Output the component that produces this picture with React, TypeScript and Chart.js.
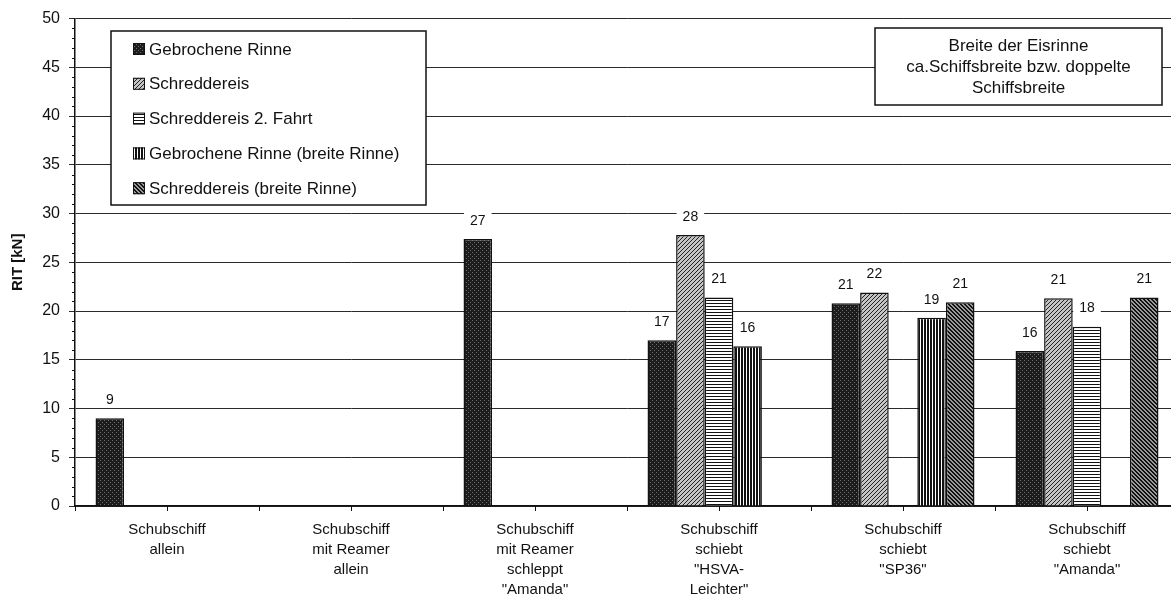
import React, { useEffect, useRef } from "react";
import { Chart, registerables } from "chart.js";
Chart.register(...registerables);

// ---------- data ----------
const categories: string[][] = [
  ["Schubschiff", "allein"],
  ["Schubschiff", "mit Reamer", "allein"],
  ["Schubschiff", "mit Reamer", "schleppt", "\"Amanda\""],
  ["Schubschiff", "schiebt", "\"HSVA-", "Leichter\""],
  ["Schubschiff", "schiebt", "\"SP36\""],
  ["Schubschiff", "schiebt", "\"Amanda\""],
];
const seriesNames = [
  "Gebrochene Rinne",
  "Schreddereis",
  "Schreddereis 2. Fahrt",
  "Gebrochene Rinne (breite Rinne)",
  "Schreddereis (breite Rinne)",
];
const gebrocheneRinne = [9.0, null, 27.4, 17.0, 20.8, 15.9];
const schreddereis = [null, null, null, 27.8, 21.9, 21.3];
const schreddereis2Fahrt = [null, null, null, 21.4, null, 18.4];
const gebrocheneRinneBreit = [null, null, null, 16.4, 19.3, null];
const schreddereisBreit = [null, null, null, null, 20.9, 21.4];
const yMin = 0;
const yMax = 50;
const yStep = 5;
const yMinorStep = 1;
const yTitle = "RIT [kN]";
const noteLines = ["Breite der Eisrinne", "ca.Schiffsbreite bzw. doppelte", "Schiffsbreite"];

const FONT = "'Liberation Sans', Arial, sans-serif";

function makePattern(
  ctx: CanvasRenderingContext2D,
  size: number,
  bg: string,
  fg: string,
  pixels: [number, number][]
) {
  const c = document.createElement("canvas");
  c.width = size;
  c.height = size;
  const g = c.getContext("2d")!;
  g.fillStyle = bg;
  g.fillRect(0, 0, size, size);
  g.fillStyle = fg;
  pixels.forEach(([x, y]) => g.fillRect(x, y, 1, 1));
  return ctx.createPattern(c, "repeat")!;
}

export default function App() {
  const ref = useRef<HTMLCanvasElement | null>(null);

  useEffect(() => {
    const canvas = ref.current!;
    const ctx = canvas.getContext("2d")!;

    const patterns = [
      makePattern(ctx, 4, "#1c1c1c", "#6e6e6e", [[0, 0], [2, 2]]),
      makePattern(ctx, 4, "#c4c4c4", "#222222", [
        [3, 0], [2, 1], [1, 2], [0, 3],
      ]),
      makePattern(ctx, 3, "#ffffff", "#111111", [[0, 0], [1, 0], [2, 0]]),
      makePattern(ctx, 3, "#ffffff", "#111111", [[0, 0], [0, 1], [0, 2], [1, 0], [1, 1], [1, 2]]),
      makePattern(ctx, 4, "#9a9a9a", "#111111", [
        [0, 0], [1, 1], [2, 2], [3, 3], [1, 0], [2, 1], [3, 2], [0, 3],
      ]),
    ];

    const seriesData = [
      gebrocheneRinne,
      schreddereis,
      schreddereis2Fahrt,
      gebrocheneRinneBreit,
      schreddereisBreit,
    ];

    const extras = {
      id: "extras",
      beforeDatasetsDraw(chart: any) {
        const c = chart.ctx;
        const { left, bottom } = chart.chartArea;
        const ys = chart.scales.y;
        c.save();
        c.strokeStyle = "#111";
        c.lineWidth = 1;
        // minor y ticks
        for (let v = yMin; v <= yMax; v += yMinorStep) {
          if (v % yStep === 0) continue;
          const y = Math.round(ys.getPixelForValue(v)) + 0.5;
          c.beginPath();
          c.moveTo(left - 3, y);
          c.lineTo(left, y);
          c.stroke();
        }
        // x ticks at category boundaries and centers
        const n = categories.length;
        const w = (chart.chartArea.right - left) / n;
        for (let i = 0; i <= 2 * n; i++) {
          const x = Math.round(left + (i * w) / 2) + 0.5;
          c.beginPath();
          c.moveTo(x, bottom);
          c.lineTo(x, bottom + 5);
          c.stroke();
        }
        c.restore();
      },
      afterDatasetsDraw(chart: any) {
        const c = chart.ctx;
        c.save();
        c.font = `14px ${FONT}`;
        c.textAlign = "center";
        c.textBaseline = "middle";
        chart.data.datasets.forEach((ds: any, di: number) => {
          const meta = chart.getDatasetMeta(di);
          meta.data.forEach((bar: any, i: number) => {
            const v = ds.data[i];
            if (v === null || v === undefined) return;
            const txt = String(Math.round(v));
            const tw = c.measureText(txt).width;
            const y = bar.y - 19;
            c.fillStyle = "#fff";
            c.fillRect(bar.x - tw / 2 - 6, y - 8, tw + 12, 16);
            c.fillStyle = "#111";
            c.fillText(txt, bar.x, y + 1);
          });
        });
        c.restore();
      },
      afterDraw(chart: any) {
        const c = chart.ctx;
        c.save();
        // legend box
        const lx = 111, ly = 31, lw = 315, lh = 174;
        c.fillStyle = "#fff";
        c.fillRect(lx, ly, lw, lh);
        c.strokeStyle = "#111";
        c.lineWidth = 1.5;
        c.strokeRect(lx, ly, lw, lh);
        c.font = `17px ${FONT}`;
        c.textAlign = "left";
        c.textBaseline = "middle";
        chart.data.datasets.forEach((ds: any, i: number) => {
          const y = 49 + i * 34.8;
          c.fillStyle = ds.backgroundColor;
          c.fillRect(133, y - 6, 12, 12);
          c.lineWidth = 1;
          c.strokeStyle = "#111";
          c.strokeRect(133.5, y - 5.5, 11, 11);
          c.fillStyle = "#111";
          c.fillText(ds.label, 149, y + 1);
        });
        // note box
        const nx = 875, ny = 28, nw = 287, nh = 77;
        c.fillStyle = "#fff";
        c.fillRect(nx, ny, nw, nh);
        c.lineWidth = 1.5;
        c.strokeStyle = "#111";
        c.strokeRect(nx, ny, nw, nh);
        c.fillStyle = "#111";
        c.textAlign = "center";
        noteLines.forEach((t, i) => c.fillText(t, nx + nw / 2, 46 + i * 21));
        c.restore();
      },
    };

    const chart = new Chart(canvas, {
      type: "bar",
      data: {
        labels: categories,
        datasets: seriesNames.map((name, i) => ({
          label: name,
          data: seriesData[i],
          backgroundColor: patterns[i] as any,
          borderColor: "#111",
          borderWidth: 1.5,
          categoryPercentage: 0.777,
          barPercentage: 1.0,
        })),
      },
      options: {
        animation: false,
        responsive: true,
        maintainAspectRatio: false,
        layout: { padding: { top: 16, left: 0, right: 6, bottom: 0 } },
        plugins: {
          legend: { display: false },
          tooltip: { enabled: false },
        },
        scales: {
          x: {
            grid: { display: true, drawOnChartArea: false, drawTicks: false },
            border: { display: true, color: "#111", width: 1.5 },
            ticks: {
              color: "#111",
              font: { family: FONT, size: 15, lineHeight: 1.33 },
              padding: 14,
              maxRotation: 0,
              autoSkip: false,
            },
            afterFit(scale: any) {
              scale.height = 93;
            },
          },
          y: {
            min: yMin,
            max: yMax,
            ticks: {
              stepSize: yStep,
              color: "#111",
              font: { family: FONT, size: 16 },
              padding: 9,
            },
            grid: { color: "#2a2a2a", lineWidth: 1, tickLength: 6 },
            border: { display: true, color: "#111", width: 1.5 },
            title: {
              display: true,
              text: yTitle,
              color: "#111",
              font: { family: FONT, size: 15, weight: "bold" },
              padding: { top: 9, bottom: 0 },
            },
            afterFit(scale: any) {
              scale.width = 75;
            },
          },
        },
      },
      plugins: [extras],
    });

    return () => chart.destroy();
  }, []);

  return (
    <div
      style={{
        position: "fixed",
        left: 0,
        top: 0,
        width: 1171,
        height: 599,
        overflow: "hidden",
        background: "#fff",
      }}
    >
      <div style={{ position: "relative", width: 1185, height: 599 }}>
        <canvas ref={ref} />
      </div>
    </div>
  );
}
